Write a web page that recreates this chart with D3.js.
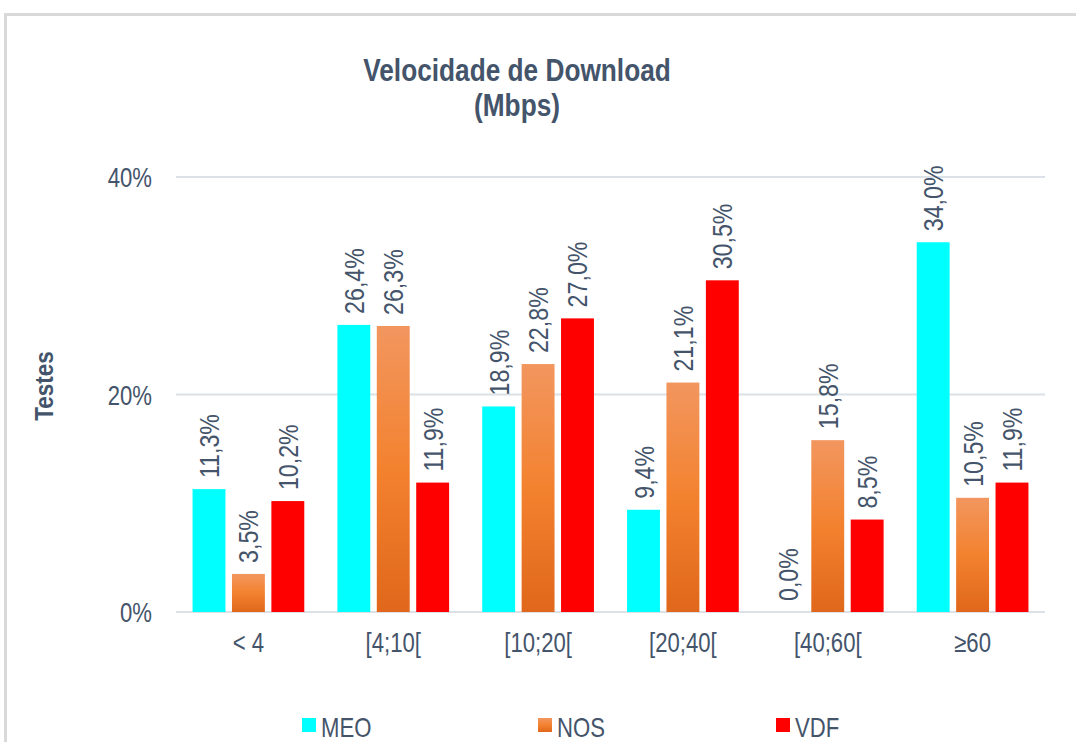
<!DOCTYPE html>
<html>
<head>
<meta charset="utf-8">
<script src="https://cdn.jsdelivr.net/npm/d3@7"></script>
<style>
  body { margin: 0; background: #fff; }
  text { font-family: "Liberation Sans", Arial, sans-serif; fill: #44546A; }
</style>
</head>
<body>
<div id="chart"></div>
<script>
const categories = ['< 4', '[4;10[', '[10;20[', '[20;40[', '[40;60[', '≥60'];
const seriesNames = ['MEO', 'NOS', 'VDF'];
const meo = [11.3, 26.4, 18.9, 9.4, 0.0, 34.0];
const nos = [3.5, 26.3, 22.8, 21.1, 15.8, 10.5];
const vdf = [10.2, 11.9, 27.0, 30.5, 8.5, 11.9];
const yTicks = [0, 20, 40];

const W = 1076, H = 742;
const margin = { top: 177, right: 31, bottom: 130, left: 176 };
const NARROW = 0.82; // fake a condensed face by squeezing the text

const svg = d3.select('#chart')
  .append('svg')
    .attr('width', W)
    .attr('height', H);

// gradient for NOS bars
const grad = svg.append('defs').append('linearGradient')
    .attr('id', 'nosGrad')
    .attr('x1', 0).attr('y1', 0).attr('x2', 0).attr('y2', 1);
grad.append('stop').attr('offset', '0%').attr('stop-color', '#F2965F');
grad.append('stop').attr('offset', '50%').attr('stop-color', '#F3822F');
grad.append('stop').attr('offset', '100%').attr('stop-color', '#E0671B');

const colors = ['#00FFFF', 'url(#nosGrad)', '#FF0000'];

// frame
svg.append('path')
    .attr('d', `M5.5,${H} V14.5 H${W}`)
    .attr('fill', 'none')
    .attr('stroke', '#D9D9D9')
    .attr('stroke-width', 3);

const x = d3.scaleBand()
    .domain(categories)
    .range([margin.left, W - margin.right]);

const x1 = d3.scaleBand()
    .domain(seriesNames)
    .range([0, x.bandwidth()])
    .paddingInner(0.165)
    .paddingOuter(0.42);

const y = d3.scaleLinear()
    .domain([0, 40])
    .range([H - margin.bottom, margin.top]);

// gridlines
svg.append('g')
  .selectAll('line')
  .data(yTicks)
  .join('line')
    .attr('x1', margin.left)
    .attr('x2', W - margin.right)
    .attr('y1', d => y(d))
    .attr('y2', d => y(d))
    .attr('stroke', '#DCE1E7')
    .attr('stroke-width', 2);

// y tick labels
svg.append('g')
  .selectAll('text')
  .data(yTicks)
  .join('text')
    .attr('transform', d => `translate(152,${y(d) + 10}) scale(${NARROW},1)`)
    .attr('text-anchor', 'end')
    .attr('font-size', '27px')
    .text(d => d + '%');

// y axis title
svg.append('text')
    .attr('transform', `translate(53,386) rotate(-90) scale(0.9,1)`)
    .attr('text-anchor', 'middle')
    .attr('font-size', '25px')
    .attr('font-weight', 'bold')
    .text('Testes');

// title
svg.append('text')
    .attr('transform', `translate(517,81) scale(${NARROW},1)`)
    .attr('text-anchor', 'middle')
    .attr('font-size', '32px')
    .attr('font-weight', 'bold')
    .text('Velocidade de Download');
svg.append('text')
    .attr('transform', `translate(517,116) scale(${NARROW},1)`)
    .attr('text-anchor', 'middle')
    .attr('font-size', '32px')
    .attr('font-weight', 'bold')
    .text('(Mbps)');

const rows = categories.map((c, i) => ({ cat: c, vals: [meo[i], nos[i], vdf[i]] }));

const groups = svg.append('g')
  .selectAll('g')
  .data(rows)
  .join('g')
    .attr('transform', d => `translate(${x(d.cat)},0)`);

const cells = groups.selectAll('g')
  .data(d => d.vals.map((v, j) => ({ name: seriesNames[j], v, j })))
  .join('g');

cells.append('rect')
    .attr('x', d => x1(d.name))
    .attr('y', d => y(d.v))
    .attr('width', x1.bandwidth())
    .attr('height', d => y(0) - y(d.v))
    .attr('fill', d => colors[d.j]);

cells.append('text')
    .attr('transform', d => `translate(${x1(d.name) + x1.bandwidth() / 2 + 10},${y(d.v) - 11}) rotate(-90) scale(0.86,1)`)
    .attr('font-size', '27px')
    .text(d => d.v.toFixed(1).replace('.', ',') + '%');

// category labels
svg.append('g')
  .selectAll('text')
  .data(categories)
  .join('text')
    .attr('transform', d => `translate(${x(d) + x.bandwidth() / 2},652) scale(${NARROW},1)`)
    .attr('text-anchor', 'middle')
    .attr('font-size', '27px')
    .text(d => d);

// legend
const legendX = [302, 538, 776];
const leg = svg.append('g')
  .selectAll('g')
  .data(seriesNames)
  .join('g')
    .attr('transform', (d, i) => `translate(${legendX[i]},718)`);
leg.append('rect')
    .attr('width', 14)
    .attr('height', 14)
    .attr('fill', (d, i) => colors[i]);
leg.append('text')
    .attr('transform', `translate(19,19) scale(${NARROW},1)`)
    .attr('font-size', '27px')
    .text(d => d);
</script>
</body>
</html>
